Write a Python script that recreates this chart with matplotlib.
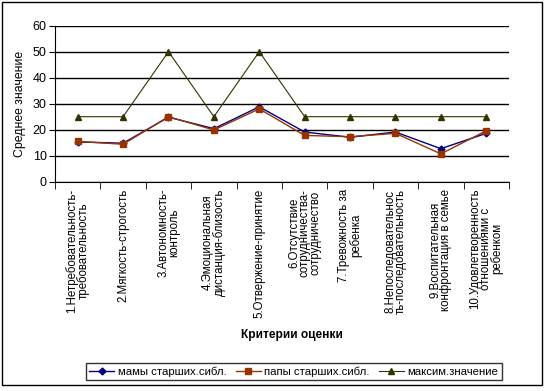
import numpy as np
from matplotlib import pyplot as plt
from matplotlib.patches import Rectangle

plt.rcParams['font.family'] = ['Liberation Sans', 'DejaVu Sans']

# данные
categories = ['1.Нетребовательность-\nтребовательность',
              '2.Мягкость-строгость',
              '3.Автономность-\nконтроль',
              '4.Эмоциональная\nдистанция-близость',
              '5.Отвержение-принятие',
              '6.Отсутствие\nсотрудничества-\nсотрудничество',
              '7.Тревожность за\nребенка',
              '8.Непоследовательнос\nть-последовательность',
              '9.Воспитательная\nконфронтация в семье',
              '10.Удовлетворенность\nотношениями с\nребенком']
mamy = [15.3, 14.8, 24.8, 20.4, 28.8, 19.1, 17.1, 19.1, 12.7, 18.6]
papy = [15.5, 14.4, 25.0, 19.9, 28.0, 17.8, 17.3, 18.6, 10.7, 19.6]
maks = [25, 25, 50, 25, 50, 25, 25, 25, 25, 25]
y_ticks = [0, 10, 20, 30, 40, 50, 60]

fig = plt.figure(figsize=(5.45, 3.91), dpi=100)
ax = fig.add_axes([0.1009, 0.5353, 0.833, 0.399])

x = np.arange(len(categories))
ax.plot(x, mamy, color='#000080', marker='D', markersize=3.5, linewidth=1, label='мамы старших.сибл.')
ax.plot(x, papy, color='#993300', marker='s', markersize=5, linewidth=1, label='папы старших.сибл.')
ax.plot(x, maks, color='#333300', marker='^', markersize=5, linewidth=0.8, label='максим.значение')

ax.set_xlim(-0.5, 9.5)
ax.set_ylim(0, 60)
ax.set_yticks(y_ticks)
ax.set_yticklabels([str(v) for v in y_ticks], fontsize=9)
ax.grid(axis='y', color='black', linewidth=1)
ax.set_axisbelow(True)
for s in ['top', 'right']:
    ax.spines[s].set_visible(False)

ax.set_xticks(x)
ax.set_xticklabels(categories, rotation=90, fontsize=8.3, va='top', ha='center',
                   multialignment='center', linespacing=0.85)
ax.set_xticks(np.arange(-0.5, 10, 1), minor=True)
ax.tick_params(axis='x', which='major', length=0, pad=5)
ax.tick_params(axis='x', which='minor', length=5, direction='out')
ax.tick_params(axis='y', length=4, direction='out', pad=2)

ax.set_ylabel('Среднее значение', fontsize=8.8, labelpad=5)
fig.text(0.536, 0.143, 'Критерии оценки', fontsize=8.6, fontweight='bold', ha='center', va='center')

leg = fig.legend(loc='center', bbox_to_anchor=(0.539, 0.05), ncol=3, fontsize=8.2,
                 frameon=True, fancybox=False, edgecolor='black', handlelength=2.2,
                 handletextpad=0.3, columnspacing=0.8, borderpad=0.3)
leg.get_frame().set_linewidth(1)

# рамка диаграммы
fig.patches.append(Rectangle((0.004, 0.015), 0.99, 0.98, transform=fig.transFigure,
                             fill=False, edgecolor='black', linewidth=1))

plt.savefig('out.png', dpi=100)
